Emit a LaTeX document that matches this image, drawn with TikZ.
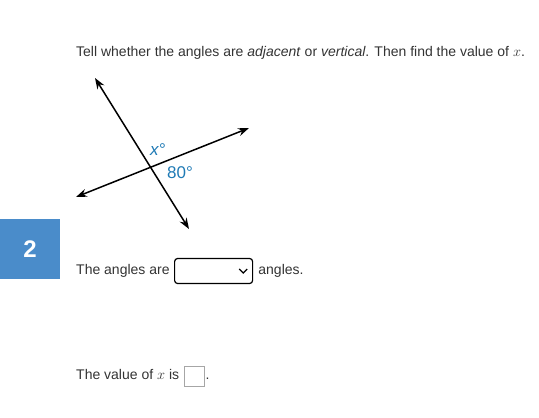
\documentclass[tikz,border=0pt]{standalone}
\usepackage{fontspec}
\setmainfont{Liberation Sans}
\usetikzlibrary{arrows.meta}
\definecolor{qblue}{HTML}{4A8CCA}
\definecolor{lblue}{HTML}{1F7AB5}
\definecolor{qtext}{HTML}{333333}
\tikzset{
    qline/.style={line width=1.5pt, {Stealth[length=11pt,width=8pt]}-{Stealth[length=11pt,width=8pt]}},
    qlabel/.style={text=lblue, font=\fontsize{17}{19}\selectfont, inner sep=0pt},
    qtxt/.style={text=qtext, font=\fontsize{14}{16}\selectfont, anchor=west, inner sep=0pt,
        text height=10pt, text depth=3pt}
}
\begin{document}
\begin{tikzpicture}[x=1pt, y=-1pt]
    \useasboundingbox (0,0) rectangle (539,418);

    \node[qtxt] (title) at (76,53) {Tell whether the angles are \textit{adjacent} or \textit{vertical}. Then find the value of $x$.};

    % the two crossing lines
    \coordinate (a1) at (95,78);
    \coordinate (a2) at (189,229);
    \coordinate (b1) at (76,197);
    \coordinate (b2) at (249,128);
    \draw[qline] (a1) -- (a2);
    \draw[qline] (b1) -- (b2);
    \node[qlabel] (lx) at (158,150) {\textit{x}°};
    \node[qlabel] (l80) at (180,173) {80°};

    % question number
    \node[fill=qblue, minimum size=60pt, inner sep=0pt, text=white,
          font=\fontsize{24}{28}\bfseries] (num) at (30,249) {2};

    \node[qtxt] (t1) at (76,271) {The angles are};
    \node[draw, rounded corners=3pt, line width=1.2pt, minimum width=78pt,
          minimum height=25pt, anchor=west] (box1) at (174,271) {};
    \draw[line width=1.2pt] ([xshift=-14pt,yshift=2pt]box1.east) -- ([xshift=-10pt,yshift=-2pt]box1.east)
        -- ([xshift=-6pt,yshift=2pt]box1.east);
    \node[qtxt] (t2) at ([xshift=5pt]box1.east) {angles.};

    \node[qtxt] (t3) at (76,376) {The value of $x$ is};
    \node[draw=gray!70, minimum size=20pt, inner sep=0pt, anchor=west] (box2) at (184,376) {};
    \node[qtxt] (t4) at ([xshift=1pt]box2.east) {.};
\end{tikzpicture}
\end{document}
